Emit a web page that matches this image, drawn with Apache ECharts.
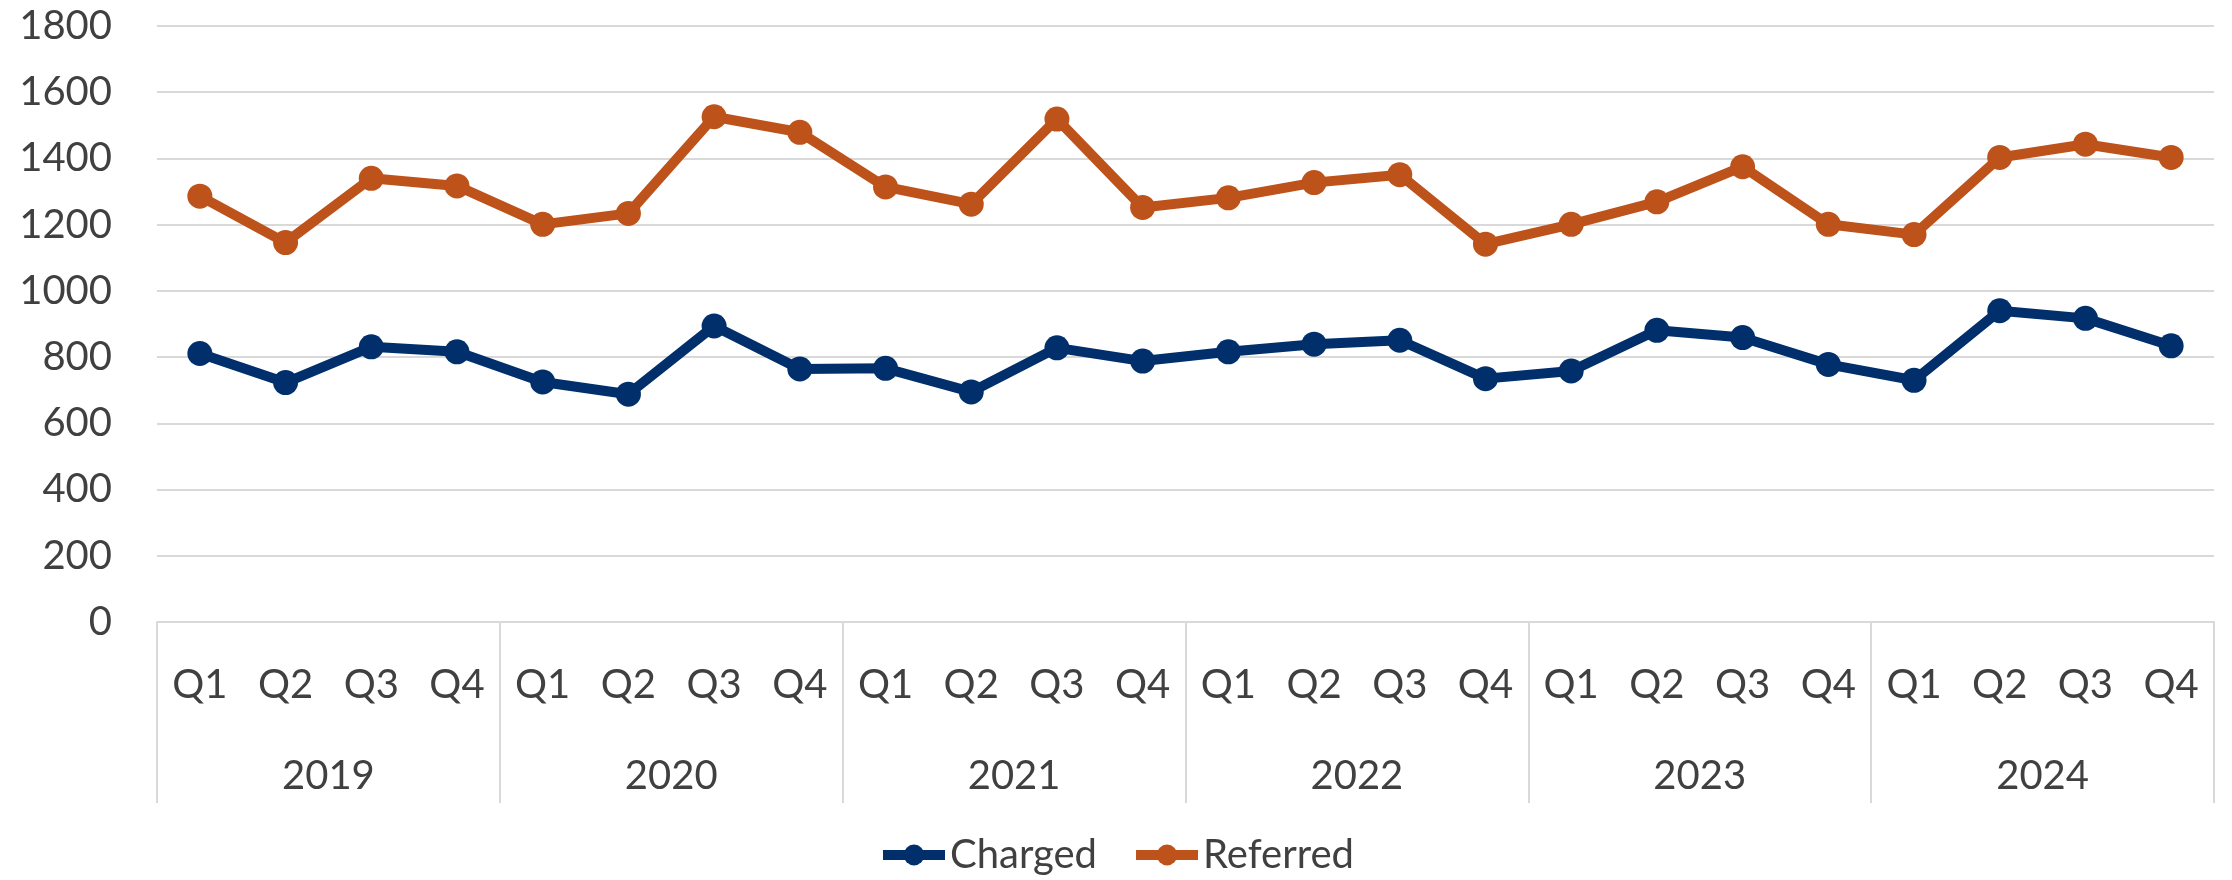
<!DOCTYPE html>
<html>
<head>
<meta charset="utf-8">
<script src="https://cdn.jsdelivr.net/npm/echarts@6/dist/echarts.min.js"></script>
<style>
  html,body{margin:0;padding:0;background:#fff;}
  #main{width:2232px;height:880px;}
</style>
</head>
<body>
<div id="main"></div>
<script>
// quarters + years for the two-level x axis
var years = ["2019","2020","2021","2022","2023","2024"];
var quarters = [];
years.forEach(function(){ quarters.push("Q1","Q2","Q3","Q4"); });

var charged  = [811,723,831,816, 725,688,894,764, 766,695,828,788, 816,839,851,735, 758,881,859,778, 730,940,917,834];
var referred = [1286,1146,1340,1317, 1201,1234,1526,1479, 1314,1262,1519,1252, 1281,1327,1351,1141, 1201,1269,1375,1201, 1170,1403,1443,1403];

var yTicks = {min:0, max:1800, step:200};

var txt = "#404040", grid = "#d9d9d9", font = "Lato";

var myChart = echarts.init(document.getElementById('main'));
myChart.setOption({
    animation:false,
    textStyle:{fontFamily:font},
    grid:{left:157, right:18, top:26, bottom:258},
    legend:{
        top:830, left:'center',
        itemWidth:62, itemHeight:26, itemGap:34,
        lineStyle:{width:10},
        textStyle:{fontSize:40, color:txt, fontFamily:font},
        data:["Charged","Referred"]
    },
    xAxis:[
        {
            type:'category', data:quarters, position:'bottom',
            axisLine:{show:true, lineStyle:{color:grid, width:2}},
            axisTick:{show:false},
            axisLabel:{interval:0, margin:43, fontSize:40, color:txt}
        },
        {
            type:'category', data:years, position:'bottom',
            axisLine:{show:false},
            axisTick:{show:true, interval:0, length:181, lineStyle:{color:grid, width:2}},
            axisLabel:{interval:0, margin:134, fontSize:40, color:txt}
        }
    ],
    yAxis:{
        type:'value', min:yTicks.min, max:yTicks.max, interval:yTicks.step,
        axisLine:{show:false}, axisTick:{show:false},
        axisLabel:{margin:45, fontSize:40, color:txt, formatter:function(v){ return String(v); }},
        splitLine:{lineStyle:{color:grid, width:2}}
    },
    series:[
        {
            name:"Charged", type:'line', data:charged, xAxisIndex:0,
            symbol:'circle', symbolSize:25,
            lineStyle:{width:10, color:'#002f6b'},
            itemStyle:{color:'#002f6b'}
        },
        {
            name:"Referred", type:'line', data:referred, xAxisIndex:0,
            symbol:'circle', symbolSize:25,
            lineStyle:{width:10, color:'#bd521b'},
            itemStyle:{color:'#bd521b'}
        }
    ]
});
</script>
</body>
</html>
